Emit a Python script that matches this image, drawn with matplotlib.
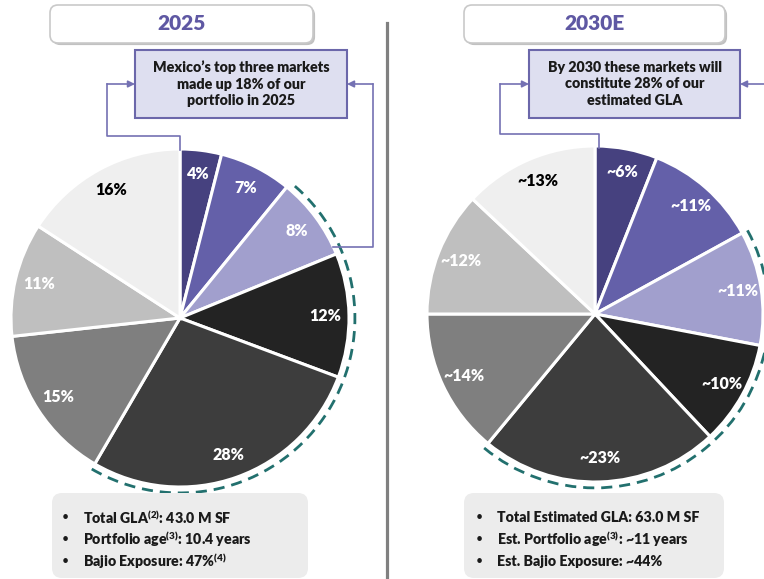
import matplotlib
matplotlib.use("Agg")
import matplotlib.pyplot as plt
import numpy as np
from matplotlib.patches import FancyBboxPatch, Rectangle, Arc
from matplotlib import patheffects as pe

plt.rcParams["font.family"] = ["Lato", "DejaVu Sans"]
plt.rcParams["mathtext.fontset"] = "custom"
plt.rcParams["mathtext.rm"] = "Lato:heavy"
plt.rcParams["mathtext.bf"] = "Lato:heavy"
plt.rcParams["mathtext.it"] = "Lato:heavy"

W, H = 764, 579
BOLD = "heavy"

# data
shares_2025 = [4, 7, 8, 12, 28, 15, 11, 16]
labels_2025 = ["4%", "7%", "8%", "12%", "28%", "15%", "11%", "16%"]
shares_2030 = [6, 11, 11, 10, 23, 14, 12, 13]
labels_2030 = ["~6%", "~11%", "~11%", "~10%", "~23%", "~14%", "~12%", "~13%"]
slice_colors = ["#46417f", "#6460a9", "#a19fcd", "#232323",
                "#3d3d3d", "#7f7f7f", "#bfbfbf", "#efefef"]
label_colors = ["white"] * 7 + ["black"]
titles = ["2025", "2030E"]
callouts = ["Mexico\u2019s top three markets\nmade up 18% of our\nportfolio in 2025",
            "By 2030 these markets will\nconstitute 28% of our\nestimated GLA"]
notes_2025 = [r"Total GLA$^{(2)}$: 43.0 M SF",
              r"Portfolio age$^{(3)}$: 10.4 years",
              r"Bajio Exposure: 47%$^{(4)}$"]
notes_2030 = ["Total Estimated GLA: 63.0 M SF",
              r"Est. Portfolio age$^{(3)}$: ~11 years",
              "Est. Bajio Exposure: ~44%"]

PURPLE = "#5f58a3"
LINE = "#7471b3"
TEAL = "#22706e"


def Y(y):
    return H - y


fig = plt.figure(figsize=(W / 100, H / 100), dpi=100)
ax = fig.add_axes([0, 0, 1, 1])


def draw_pie(shares, labels, cx, cy, r, dash_from, dash_to):
    wedges, _ = ax.pie(shares, colors=slice_colors, startangle=90, counterclock=False,
                       center=(cx, Y(cy)), radius=r,
                       wedgeprops=dict(edgecolor="white", linewidth=2.2))
    for w, lab, tc in zip(wedges, labels, label_colors):
        mid = np.deg2rad((w.theta1 + w.theta2) / 2)
        ax.text(cx + 0.86 * r * np.cos(mid), Y(cy) + 0.86 * r * np.sin(mid), lab,
                ha="center", va="center", fontsize=11.5, fontweight=BOLD, color=tc)
    # dashed arc over the highlighted wedges
    t1 = wedges[dash_to].theta1
    t2 = wedges[dash_from].theta2
    ax.add_patch(Arc((cx, Y(cy)), 2 * r * 1.035, 2 * r * 1.035, theta1=t1, theta2=t2,
                     color=TEAL, lw=2, linestyle=(0, (4, 2.5))))
    return wedges


def title_box(x0, x1, text):
    box = FancyBboxPatch((x0, Y(43)), x1 - x0, 38, boxstyle="round,pad=0,rounding_size=8",
                         fc="white", ec="#c9c9c9", lw=1.2,
                         path_effects=[pe.withSimplePatchShadow(offset=(1.5, -1.5),
                                                                shadow_rgbFace="#999999",
                                                                alpha=0.6)])
    ax.add_patch(box)
    ax.text((x0 + x1) / 2, Y(24), text, ha="center", va="center", fontsize=15,
            fontweight=BOLD, color=PURPLE)


def callout(x0, x1, text):
    ax.add_patch(Rectangle((x0, Y(118)), x1 - x0, 68, fc="#dedff0", ec="#6b67aa", lw=1.5))
    ax.text((x0 + x1) / 2, Y(84), text, ha="center", va="center", fontsize=10.3,
            fontweight=BOLD, color="#1a1a1a", linespacing=1.32)


def notes_box(x0, x1, bx, tx, lines):
    ax.add_patch(FancyBboxPatch((x0, Y(578)), x1 - x0, 85,
                                boxstyle="round,pad=0,rounding_size=10",
                                fc="#ececec", ec="none"))
    for i, s in enumerate(lines):
        yy = Y(517 + 22 * i)
        ax.text(bx, yy, "\u2022", ha="left", va="center", fontsize=9, color="#1a1a1a")
        ax.text(tx, yy, s, ha="left", va="center", fontsize=10.2, fontweight=BOLD,
                color="#1a1a1a")


def arrow(x_from, x_to, y):
    ax.annotate("", xy=(x_to, Y(y)), xytext=(x_from, Y(y)),
                arrowprops=dict(arrowstyle="-|>", color=LINE, lw=1.2, mutation_scale=10,
                                shrinkA=0, shrinkB=0))


# left panel
draw_pie(shares_2025, labels_2025, 180, 318, 169, 2, 4)
title_box(50, 313, titles[0])
callout(135, 347, callouts[0])
ax.plot([180, 180, 107, 107], [Y(150), Y(136), Y(136), Y(84)], color=LINE, lw=1.2)
arrow(107, 135, 84)
ax.plot([333, 373, 373], [Y(247), Y(247), Y(84)], color=LINE, lw=1.2)
arrow(373, 347, 84)
notes_box(52, 308, 62, 83, notes_2025)

# separator
ax.plot([387, 387], [Y(23), Y(579)], color="#808080", lw=2.3)

# right panel
draw_pie(shares_2030, labels_2030, 595, 314, 168, 2, 4)
title_box(464, 725, titles[1])
callout(529, 740, callouts[1])
ax.plot([599, 599, 500, 500], [Y(148), Y(134), Y(134), Y(84)], color=LINE, lw=1.2)
arrow(500, 529, 84)
arrow(766, 740, 84)
notes_box(464, 724, 476, 497, notes_2030)

ax.set_xlim(0, W)
ax.set_ylim(0, H)
ax.set_aspect("equal")
ax.axis("off")

fig.savefig("out.png", dpi=100)
